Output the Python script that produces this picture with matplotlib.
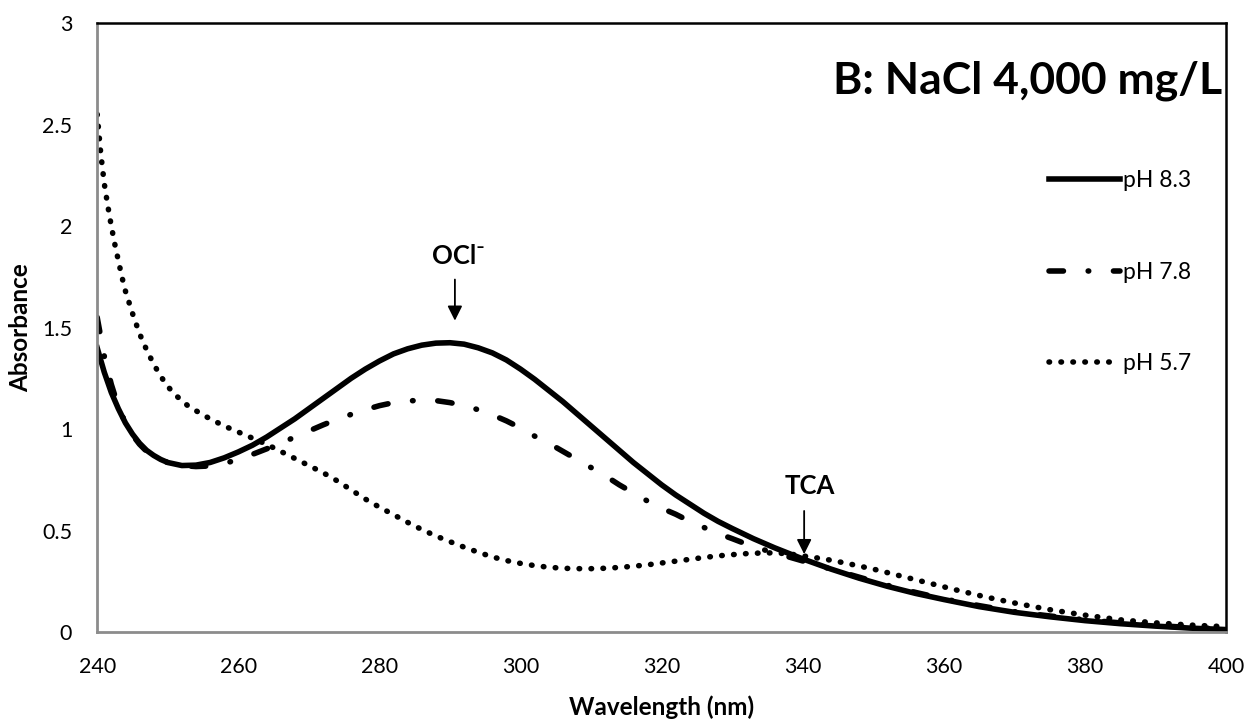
import matplotlib.pyplot as plt
from matplotlib.ticker import FuncFormatter

# wavelength (nm) and absorbance
wl_83 = [240, 241, 242, 243, 244, 245, 246, 247, 248, 249, 250, 252, 254, 256, 258, 260, 262,
         264, 266, 268, 270, 272, 274, 276, 278, 280, 282, 284, 286, 288, 290, 292, 294, 296,
         298, 300, 302, 304, 306, 308, 310, 312, 314, 316, 318, 320, 322, 324, 326, 328, 330,
         333, 336, 340, 344, 348, 352, 356, 360, 365, 370, 375, 380, 385, 390, 395, 400]
abs_83 = [1.40, 1.28, 1.18, 1.10, 1.03, 0.975, 0.93, 0.895, 0.87, 0.85, 0.835, 0.82, 0.822,
          0.835, 0.858, 0.887, 0.92, 0.96, 1.005, 1.05, 1.10, 1.15, 1.20, 1.25, 1.295, 1.335,
          1.37, 1.395, 1.413, 1.423, 1.425, 1.418, 1.40, 1.375, 1.34, 1.295, 1.245, 1.19, 1.135,
          1.075, 1.015, 0.955, 0.895, 0.835, 0.78, 0.725, 0.675, 0.63, 0.585, 0.545, 0.51, 0.46,
          0.415, 0.36, 0.31, 0.265, 0.225, 0.19, 0.16, 0.125, 0.097, 0.075, 0.056, 0.041, 0.029,
          0.019, 0.012]

wl_78 = [240, 241, 242, 243, 244, 245, 246, 247, 248, 250, 252, 254, 256, 258, 260, 262, 264,
         266, 268, 270, 272, 274, 276, 278, 280, 282, 284, 286, 288, 290, 292, 294, 296, 298,
         300, 302, 304, 306, 308, 310, 312, 314, 316, 318, 320, 322, 324, 326, 328, 330, 333,
         336, 340, 344, 348, 352, 356, 360, 365, 370, 375, 380, 385, 390, 395, 400]
abs_78 = [1.55, 1.36, 1.22, 1.11, 1.03, 0.97, 0.925, 0.89, 0.862, 0.835, 0.82, 0.815, 0.818,
          0.83, 0.85, 0.875, 0.902, 0.93, 0.96, 0.99, 1.02, 1.048, 1.072, 1.095, 1.115, 1.13,
          1.138, 1.142, 1.14, 1.13, 1.115, 1.095, 1.07, 1.04, 1.005, 0.965, 0.93, 0.89, 0.85,
          0.81, 0.77, 0.725, 0.685, 0.645, 0.61, 0.58, 0.545, 0.515, 0.485, 0.46, 0.42, 0.39,
          0.35, 0.31, 0.27, 0.23, 0.195, 0.163, 0.13, 0.10, 0.079, 0.06, 0.045, 0.032, 0.022,
          0.015]

wl_57 = [240, 240.5, 241, 241.5, 242, 242.5, 243, 243.5, 244, 245, 246, 247, 248, 249, 250, 251,
         252, 253, 254, 256, 258, 260, 262, 264, 266, 268, 270, 272, 274, 276, 278, 280, 282,
         284, 286, 288, 290, 292, 294, 296, 298, 300, 302, 304, 306, 308, 310, 312, 314, 316,
         318, 320, 322, 324, 326, 328, 330, 332, 334, 336, 338, 340, 343, 346, 350, 354, 358,
         362, 366, 370, 375, 380, 385, 390, 395, 400]
abs_57 = [2.55, 2.36, 2.21, 2.10, 2.00, 1.91, 1.83, 1.75, 1.68, 1.57, 1.47, 1.39, 1.32, 1.26,
          1.21, 1.17, 1.14, 1.11, 1.09, 1.05, 1.015, 0.985, 0.955, 0.925, 0.89, 0.855, 0.82,
          0.785, 0.745, 0.70, 0.655, 0.615, 0.578, 0.54, 0.505, 0.473, 0.445, 0.418, 0.393,
          0.37, 0.352, 0.338, 0.327, 0.319, 0.314, 0.312, 0.312, 0.314, 0.318, 0.324, 0.331,
          0.34, 0.349, 0.358, 0.367, 0.375, 0.381, 0.386, 0.389, 0.39, 0.385, 0.375, 0.36, 0.34,
          0.31, 0.275, 0.24, 0.205, 0.172, 0.143, 0.11, 0.083, 0.06, 0.045, 0.034, 0.026]

font = ['Lato', 'DejaVu Sans']
plt.rcParams['font.family'] = font

fig = plt.figure(figsize=(12.46, 7.19), dpi=100)
ax = fig.add_axes([0.078, 0.121, 0.906, 0.847])

lw = 4
ax.plot(wl_83, abs_83, color='black', lw=lw, label='pH 8.3')
ax.plot(wl_78, abs_78, color='black', lw=lw, linestyle=(0, (2.6, 4.45, 0.1, 4.45)),
        dash_capstyle='round', label='pH 7.8')
ax.plot(wl_57, abs_57, color='black', lw=lw, linestyle=(0, (0.1, 2.05)),
        dash_capstyle='round', label='pH 5.7')

ax.set_xlim(240, 400)
ax.set_ylim(0, 3)
ax.set_xticks(range(240, 401, 20))
ax.set_yticks([0, 0.5, 1, 1.5, 2, 2.5, 3])
ax.yaxis.set_major_formatter(FuncFormatter(lambda v, p: '%g' % v))
ax.tick_params(length=0, labelsize=15.5)
ax.tick_params(axis='x', pad=18)
ax.tick_params(axis='y', pad=18)

for s in ['left', 'bottom']:
    ax.spines[s].set_color('#8c8c8c')
    ax.spines[s].set_linewidth(2)
for s in ['top', 'right']:
    ax.spines[s].set_color('black')
    ax.spines[s].set_linewidth(1.8)

ax.set_xlabel('Wavelength (nm)', fontsize=17.5, fontweight='bold', labelpad=13)
ax.set_ylabel('Absorbance', fontsize=17.5, fontweight='bold', labelpad=7)

ax.text(0.997, 0.905, 'B: NaCl 4,000 mg/L', transform=ax.transAxes, ha='right', va='center',
        fontsize=32, fontweight='bold')

ax.annotate('', xy=(290.7, 1.52), xytext=(290.7, 1.75),
            arrowprops=dict(arrowstyle='-|>', color='black', lw=1.3, mutation_scale=22))
ax.text(291.2, 1.85, 'OCl\u207b', ha='center', va='center', fontsize=18.5, fontweight='bold')

ax.annotate('', xy=(340.2, 0.37), xytext=(340.2, 0.61),
            arrowprops=dict(arrowstyle='-|>', color='black', lw=1.3, mutation_scale=22))
ax.text(341, 0.72, 'TCA', ha='center', va='center', fontsize=18.5, fontweight='bold')

ax.legend(loc='upper left', bbox_to_anchor=(0.835, 0.773), frameon=False, fontsize=16.5,
          handlelength=3.1, handletextpad=0.15, labelspacing=3.07, borderaxespad=0)

fig.savefig('out.png', dpi=100)
plt.close(fig)
